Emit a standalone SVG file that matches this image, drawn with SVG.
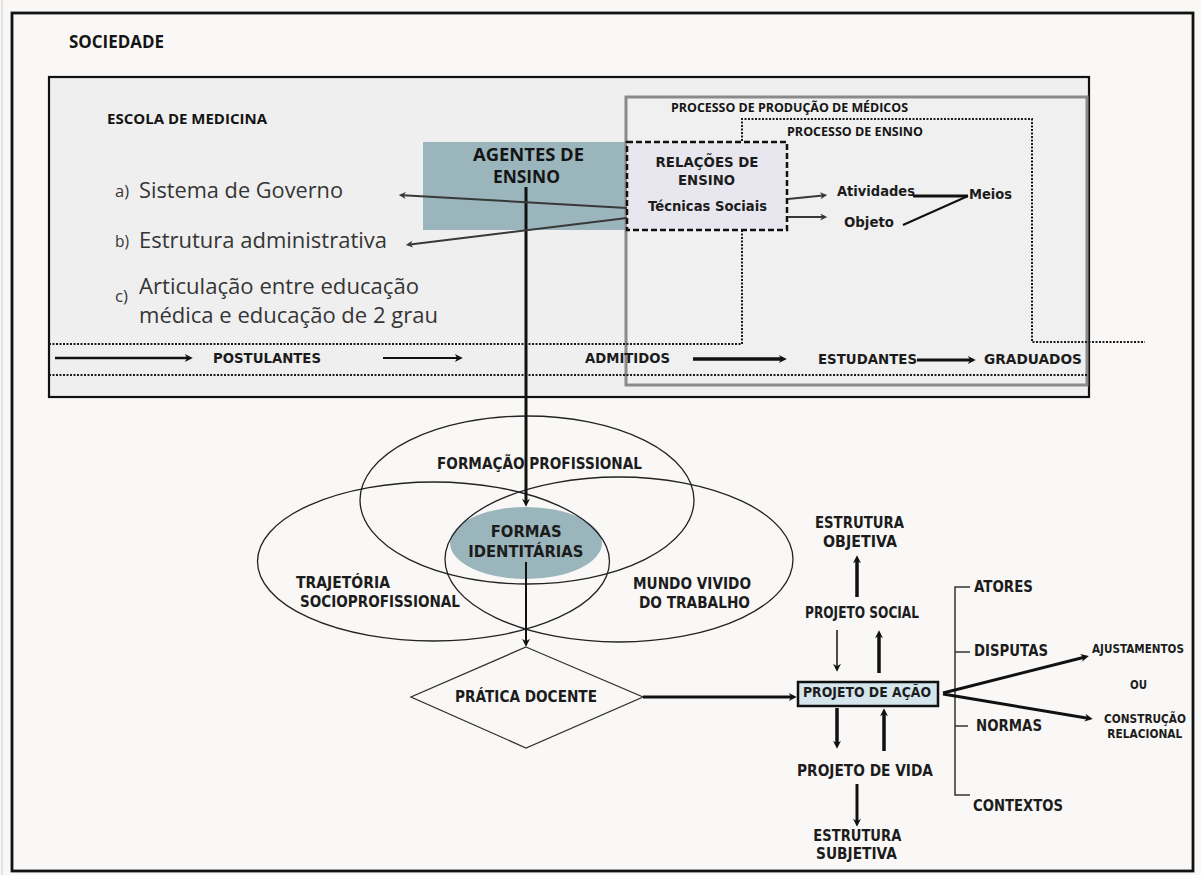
<svg xmlns="http://www.w3.org/2000/svg" width="1201" height="875" viewBox="0 0 1201 875">
<style>
.ob{font-family:"Open Sans","Liberation Sans",sans-serif;font-weight:700;fill:#141414}
.mb{font-family:"DejaVu Sans","Liberation Sans",sans-serif;font-weight:700;fill:#1c1c1c}
.ol{font-family:"Open Sans","Liberation Sans",sans-serif;font-weight:400;fill:#353535}
.ln{fill:none;stroke:#111}
.dot{fill:none;stroke:#1a1a1a;stroke-width:2;stroke-dasharray:2 1.5}
.ell{fill:none;stroke:#222;stroke-width:1.3}
</style>
<defs>
<marker id="ah" viewBox="0 0 10 10" refX="4" refY="5" markerWidth="9" markerHeight="8" markerUnits="userSpaceOnUse" orient="auto"><path d="M0,0 L10,5 L0,10 L3,5 z" fill="#111"/></marker>
<marker id="ahg" viewBox="0 0 10 10" refX="4" refY="5" markerWidth="8" markerHeight="7" markerUnits="userSpaceOnUse" orient="auto"><path d="M0,0 L10,5 L0,10 L3,5 z" fill="#383838"/></marker>
</defs>
<rect x="0" y="0" width="1201" height="875" fill="#f9f8f6"/>
<line x1="2" y1="0" x2="2" y2="875" stroke="#dcdcdc" stroke-width="1.5"/>
<g id="sociedade">
<rect x="12" y="13" width="1181" height="858" fill="#f9f8f6" stroke="#111" stroke-width="2.8"/>
<text class="ob" x="69" y="48" font-size="18" textLength="95" lengthAdjust="spacingAndGlyphs">SOCIEDADE</text>
</g>
<g id="escola">
<rect x="49" y="77" width="1040" height="320" fill="#efefef" stroke="#111" stroke-width="2.2"/>
<text class="ob" x="107" y="124" font-size="15" textLength="160" lengthAdjust="spacingAndGlyphs">ESCOLA DE MEDICINA</text>
</g>
<g id="agentes">
<rect x="423" y="142" width="204" height="88" fill="#9ab5bb"/>
<text class="ob" x="473" y="161" font-size="17.5" textLength="111" lengthAdjust="spacingAndGlyphs">AGENTES DE</text>
<text class="ob" x="493" y="182.7" font-size="17.5" textLength="67" lengthAdjust="spacingAndGlyphs">ENSINO</text>
</g>
<g id="producao">
<rect x="626" y="97" width="461" height="288" fill="#f0f0f0" stroke="#8a8a8a" stroke-width="3"/>
<text class="ob" x="671" y="111.5" font-size="12.5" textLength="237" lengthAdjust="spacingAndGlyphs">PROCESSO DE PRODUÇÃO DE MÉDICOS</text>
</g>
<g id="ensino">
<path class="dot" d="M49,344 H742 V119 H1032 V342 H1145"/>
<line class="dot" x1="49" y1="375" x2="1087" y2="375"/>
<text class="ob" x="787" y="135.5" font-size="12.5" textLength="136" lengthAdjust="spacingAndGlyphs">PROCESSO DE ENSINO</text>
</g>
<g id="relacoes">
<rect x="627" y="142" width="160" height="88" fill="#e8e6ee" stroke="#111" stroke-width="2.5" stroke-dasharray="6 3"/>
<text class="mb" x="655.5" y="166.5" font-size="14.5" textLength="103" lengthAdjust="spacingAndGlyphs">RELAÇÕES DE</text>
<text class="mb" x="678" y="185" font-size="14.5" textLength="57" lengthAdjust="spacingAndGlyphs">ENSINO</text>
<text class="mb" x="648" y="211" font-size="13.5" textLength="119" lengthAdjust="spacingAndGlyphs">Técnicas Sociais</text>
</g>
<g id="atividades"><text class="mb" x="837" y="196" font-size="14.5" textLength="78" lengthAdjust="spacingAndGlyphs">Atividades</text></g>
<g id="objeto"><text class="mb" x="844" y="227" font-size="14.5" textLength="50" lengthAdjust="spacingAndGlyphs">Objeto</text></g>
<g id="meios"><text class="mb" x="969" y="199" font-size="14.5" textLength="43" lengthAdjust="spacingAndGlyphs">Meios</text></g>
<g id="sistema">
<text class="ol" x="115" y="197" font-size="16" textLength="14" lengthAdjust="spacingAndGlyphs">a)</text>
<text class="ol" x="139" y="198" font-size="22" textLength="204" lengthAdjust="spacingAndGlyphs">Sistema de Governo</text>
</g>
<g id="estrutura-adm">
<text class="ol" x="115" y="247" font-size="16" textLength="14" lengthAdjust="spacingAndGlyphs">b)</text>
<text class="ol" x="139" y="248" font-size="22" textLength="248" lengthAdjust="spacingAndGlyphs">Estrutura administrativa</text>
</g>
<g id="articulacao">
<text class="ol" x="115" y="302" font-size="16" textLength="13" lengthAdjust="spacingAndGlyphs">c)</text>
<text class="ol" x="139" y="294" font-size="22" textLength="280" lengthAdjust="spacingAndGlyphs">Articulação entre educação</text>
<text class="ol" x="139" y="323" font-size="22" textLength="299" lengthAdjust="spacingAndGlyphs">médica e educação de 2 grau</text>
</g>
<g id="postulantes"><text class="mb" x="213" y="363" font-size="14.5" textLength="108" lengthAdjust="spacingAndGlyphs">POSTULANTES</text></g>
<g id="admitidos"><text class="mb" x="585" y="362.7" font-size="14.5" textLength="85" lengthAdjust="spacingAndGlyphs">ADMITIDOS</text></g>
<g id="estudantes"><text class="mb" x="818" y="364" font-size="14.5" textLength="99" lengthAdjust="spacingAndGlyphs">ESTUDANTES</text></g>
<g id="graduados"><text class="mb" x="984" y="364" font-size="14.5" textLength="98" lengthAdjust="spacingAndGlyphs">GRADUADOS</text></g>
<g id="formas">
<ellipse cx="526" cy="543" rx="76" ry="36" fill="#9ab5bb"/>
<text class="mb" x="490.7" y="536.7" font-size="16" textLength="71" lengthAdjust="spacingAndGlyphs">FORMAS</text>
<text class="mb" x="468.3" y="557.3" font-size="16" textLength="115" lengthAdjust="spacingAndGlyphs">IDENTITÁRIAS</text>
</g>
<g id="formacao">
<ellipse class="ell" cx="527" cy="500" rx="167" ry="84"/>
<text class="mb" x="437" y="469.3" font-size="15" textLength="205" lengthAdjust="spacingAndGlyphs">FORMAÇÃO PROFISSIONAL</text>
</g>
<g id="trajetoria">
<ellipse class="ell" cx="433.5" cy="561.5" rx="176" ry="79.5"/>
<text class="mb" x="296" y="587.7" font-size="15" textLength="94" lengthAdjust="spacingAndGlyphs">TRAJETÓRIA</text>
<text class="mb" x="300" y="606.7" font-size="15" textLength="160" lengthAdjust="spacingAndGlyphs">SOCIOPROFISSIONAL</text>
</g>
<g id="mundo">
<ellipse class="ell" cx="619" cy="559.5" rx="174" ry="82.5"/>
<text class="mb" x="633" y="589" font-size="15" textLength="118" lengthAdjust="spacingAndGlyphs">MUNDO VIVIDO</text>
<text class="mb" x="639" y="608" font-size="15" textLength="111" lengthAdjust="spacingAndGlyphs">DO TRABALHO</text>
</g>
<g id="pratica">
<polygon points="526,647 643,697 526,748 411,697" fill="none" stroke="#333" stroke-width="1.3"/>
<text class="mb" x="455" y="702.3" font-size="15" textLength="142" lengthAdjust="spacingAndGlyphs">PRÁTICA DOCENTE</text>
</g>
<g id="projeto-acao">
<rect x="798" y="682" width="140" height="24" fill="#d5e5ec" stroke="#111" stroke-width="2.5"/>
<text class="mb" x="803" y="696.7" font-size="14" textLength="128" lengthAdjust="spacingAndGlyphs">PROJETO DE AÇÃO</text>
</g>
<g id="estrutura-objetiva">
<text class="mb" x="815" y="527.7" font-size="15" textLength="89" lengthAdjust="spacingAndGlyphs">ESTRUTURA</text>
<text class="mb" x="823" y="546.7" font-size="15" textLength="74" lengthAdjust="spacingAndGlyphs">OBJETIVA</text>
</g>
<g id="projeto-social"><text class="mb" x="805" y="618" font-size="15" textLength="114" lengthAdjust="spacingAndGlyphs">PROJETO SOCIAL</text></g>
<g id="projeto-vida"><text class="mb" x="797" y="776" font-size="15" textLength="136" lengthAdjust="spacingAndGlyphs">PROJETO DE VIDA</text></g>
<g id="estrutura-subjetiva">
<text class="mb" x="813.3" y="840.7" font-size="15" textLength="88" lengthAdjust="spacingAndGlyphs">ESTRUTURA</text>
<text class="mb" x="816" y="859" font-size="15" textLength="81" lengthAdjust="spacingAndGlyphs">SUBJETIVA</text>
</g>
<g id="dimensoes">
<path d="M970,587 H955 V795 H970 M955,652 H970 M955,726 H968" fill="none" stroke="#333" stroke-width="1.5"/>
<text class="mb" x="974" y="592.3" font-size="15" textLength="59" lengthAdjust="spacingAndGlyphs">ATORES</text>
<text class="mb" x="974" y="656" font-size="15" textLength="74" lengthAdjust="spacingAndGlyphs">DISPUTAS</text>
<text class="mb" x="976" y="730.7" font-size="15" textLength="66" lengthAdjust="spacingAndGlyphs">NORMAS</text>
<text class="mb" x="973" y="810.7" font-size="15" textLength="90" lengthAdjust="spacingAndGlyphs">CONTEXTOS</text>
</g>
<g id="ajustamentos"><text class="mb" x="1092" y="652.7" font-size="12.5" textLength="92" lengthAdjust="spacingAndGlyphs">AJUSTAMENTOS</text></g>
<g id="ou"><text class="mb" x="1130" y="688.7" font-size="12.5" textLength="17" lengthAdjust="spacingAndGlyphs">OU</text></g>
<g id="construcao">
<text class="mb" x="1104" y="723.3" font-size="12.5" textLength="82" lengthAdjust="spacingAndGlyphs">CONSTRUÇÃO</text>
<text class="mb" x="1107.3" y="738.3" font-size="12.5" textLength="75" lengthAdjust="spacingAndGlyphs">RELACIONAL</text>
</g>
<g id="connectors">
<line class="ln" x1="526" y1="187" x2="526" y2="502" stroke-width="3" marker-end="url(#ah)"/>
<line class="ln" x1="526" y1="562" x2="526" y2="642" stroke-width="2" marker-end="url(#ah)"/>
<line class="ln" x1="643" y1="697" x2="792" y2="697" stroke-width="3" marker-end="url(#ah)"/>
<line x1="627" y1="208" x2="403" y2="195.3" stroke="#383838" stroke-width="2" marker-end="url(#ahg)"/>
<line x1="627" y1="218" x2="410" y2="244.4" stroke="#383838" stroke-width="2" marker-end="url(#ahg)"/>
<line x1="788" y1="199" x2="823" y2="195.5" stroke="#383838" stroke-width="2" marker-end="url(#ahg)"/>
<line x1="788" y1="217" x2="823" y2="217" stroke="#383838" stroke-width="2" marker-end="url(#ahg)"/>
<line class="ln" x1="913" y1="196" x2="968" y2="196" stroke-width="3"/>
<line class="ln" x1="903" y1="225" x2="968" y2="196" stroke-width="2"/>
<line class="ln" x1="55" y1="358" x2="188" y2="358" stroke-width="2.5" marker-end="url(#ah)"/>
<line class="ln" x1="383" y1="358" x2="458" y2="358" stroke-width="2" marker-end="url(#ah)"/>
<line class="ln" x1="693" y1="359" x2="782" y2="359" stroke-width="3.5" marker-end="url(#ah)"/>
<line class="ln" x1="917" y1="360" x2="971" y2="360" stroke-width="3" marker-end="url(#ah)"/>
<line class="ln" x1="857" y1="597" x2="857" y2="560" stroke-width="3.5" marker-end="url(#ah)"/>
<line class="ln" x1="837" y1="630" x2="837" y2="667" stroke-width="1.5" marker-end="url(#ah)"/>
<line class="ln" x1="879" y1="673" x2="879" y2="635" stroke-width="3.5" marker-end="url(#ah)"/>
<line class="ln" x1="837" y1="708" x2="837" y2="744" stroke-width="3.5" marker-end="url(#ah)"/>
<line class="ln" x1="884" y1="751" x2="884" y2="713" stroke-width="3.5" marker-end="url(#ah)"/>
<line class="ln" x1="857" y1="784" x2="857" y2="822" stroke-width="3" marker-end="url(#ah)"/>
<line class="ln" x1="943" y1="693" x2="1084.2" y2="657.2" stroke-width="3" marker-end="url(#ah)"/>
<line class="ln" x1="943" y1="694" x2="1088" y2="718.2" stroke-width="3" marker-end="url(#ah)"/>
</g>
</svg>
